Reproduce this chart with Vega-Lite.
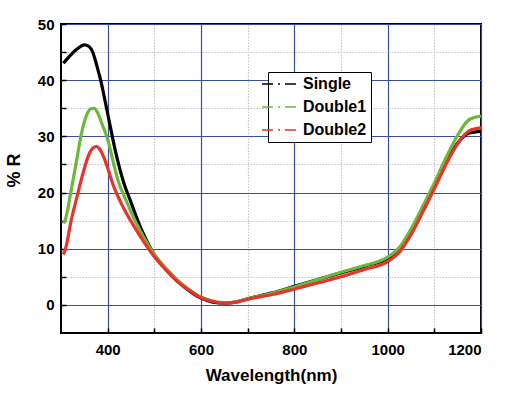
{
  "$schema": "https://vega.github.io/schema/vega-lite/v6.json",
  "autosize": {"type": "none"},
  "width": 420,
  "height": 309,
  "padding": {"left": 61, "top": 24, "right": 35, "bottom": 66},
  "background": "white",
  "config": {
    "font": "Liberation Sans",
    "view": {"stroke": "black", "strokeWidth": 2},
    "axis": {
      "labelFont": "Liberation Sans",
      "labelFontWeight": "bold",
      "labelFontSize": 15,
      "labelColor": "black",
      "titleFont": "Liberation Sans",
      "titleFontWeight": "bold",
      "titleColor": "black",
      "domain": false,
      "tickColor": "black",
      "tickWidth": 1.5,
      "tickSize": -5,
      "grid": true,
      "gridColor": {"condition": {"test": "datum.value % 200 === 0 || (datum.value % 10 === 0 && datum.value < 100)", "value": "#3a4f9a"}, "value": "#c4c4c4"},
      "gridDash": {"condition": {"test": "datum.value % 200 === 0 || (datum.value % 10 === 0 && datum.value < 100)", "value": []}, "value": [1.5, 1.5]},
      "gridWidth": 1.2,
      "gridOpacity": 1
    },
    "legend": {
      "labelFont": "Liberation Sans",
      "labelFontWeight": "bold",
      "labelFontSize": 16,
      "labelColor": "black"
    }
  },
  "data": {
    "values": [
      {"wl": 305, "R": 43.0, "s": "Single"},
      {"wl": 320, "R": 44.4, "s": "Single"},
      {"wl": 335, "R": 45.6, "s": "Single"},
      {"wl": 350, "R": 46.3, "s": "Single"},
      {"wl": 360, "R": 46.0, "s": "Single"},
      {"wl": 368, "R": 45.0, "s": "Single"},
      {"wl": 377, "R": 42.5, "s": "Single"},
      {"wl": 385, "R": 40.0, "s": "Single"},
      {"wl": 394, "R": 36.5, "s": "Single"},
      {"wl": 405, "R": 32.0, "s": "Single"},
      {"wl": 416, "R": 27.6, "s": "Single"},
      {"wl": 422, "R": 25.5, "s": "Single"},
      {"wl": 435, "R": 21.6, "s": "Single"},
      {"wl": 448, "R": 18.7, "s": "Single"},
      {"wl": 460, "R": 16.0, "s": "Single"},
      {"wl": 473, "R": 13.3, "s": "Single"},
      {"wl": 485, "R": 11.2, "s": "Single"},
      {"wl": 498, "R": 9.2, "s": "Single"},
      {"wl": 525, "R": 6.4, "s": "Single"},
      {"wl": 550, "R": 4.2, "s": "Single"},
      {"wl": 575, "R": 2.5, "s": "Single"},
      {"wl": 600, "R": 1.2, "s": "Single"},
      {"wl": 625, "R": 0.5, "s": "Single"},
      {"wl": 650, "R": 0.3, "s": "Single"},
      {"wl": 675, "R": 0.5, "s": "Single"},
      {"wl": 700, "R": 1.1, "s": "Single"},
      {"wl": 750, "R": 2.1, "s": "Single"},
      {"wl": 800, "R": 3.3, "s": "Single"},
      {"wl": 850, "R": 4.5, "s": "Single"},
      {"wl": 900, "R": 5.7, "s": "Single"},
      {"wl": 950, "R": 6.9, "s": "Single"},
      {"wl": 1000, "R": 8.3, "s": "Single"},
      {"wl": 1025, "R": 9.8, "s": "Single"},
      {"wl": 1050, "R": 13.0, "s": "Single"},
      {"wl": 1075, "R": 17.0, "s": "Single"},
      {"wl": 1100, "R": 21.0, "s": "Single"},
      {"wl": 1125, "R": 25.3, "s": "Single"},
      {"wl": 1150, "R": 28.8, "s": "Single"},
      {"wl": 1175, "R": 30.6, "s": "Single"},
      {"wl": 1200, "R": 30.9, "s": "Single"},

      {"wl": 305, "R": 14.5, "s": "Double1"},
      {"wl": 309, "R": 15.1, "s": "Double1"},
      {"wl": 322, "R": 20.5, "s": "Double1"},
      {"wl": 333, "R": 25.5, "s": "Double1"},
      {"wl": 344, "R": 30.6, "s": "Double1"},
      {"wl": 355, "R": 33.8, "s": "Double1"},
      {"wl": 364, "R": 34.9, "s": "Double1"},
      {"wl": 371, "R": 35.0, "s": "Double1"},
      {"wl": 378, "R": 34.3, "s": "Double1"},
      {"wl": 388, "R": 32.2, "s": "Double1"},
      {"wl": 401, "R": 29.2, "s": "Double1"},
      {"wl": 412, "R": 25.4, "s": "Double1"},
      {"wl": 422, "R": 22.2, "s": "Double1"},
      {"wl": 441, "R": 18.3, "s": "Double1"},
      {"wl": 455, "R": 15.6, "s": "Double1"},
      {"wl": 469, "R": 13.3, "s": "Double1"},
      {"wl": 484, "R": 11.1, "s": "Double1"},
      {"wl": 498, "R": 9.2, "s": "Double1"},
      {"wl": 525, "R": 6.5, "s": "Double1"},
      {"wl": 550, "R": 4.4, "s": "Double1"},
      {"wl": 575, "R": 2.7, "s": "Double1"},
      {"wl": 600, "R": 1.4, "s": "Double1"},
      {"wl": 625, "R": 0.7, "s": "Double1"},
      {"wl": 650, "R": 0.4, "s": "Double1"},
      {"wl": 675, "R": 0.5, "s": "Double1"},
      {"wl": 700, "R": 1.1, "s": "Double1"},
      {"wl": 750, "R": 2.0, "s": "Double1"},
      {"wl": 800, "R": 3.2, "s": "Double1"},
      {"wl": 850, "R": 4.5, "s": "Double1"},
      {"wl": 900, "R": 5.8, "s": "Double1"},
      {"wl": 950, "R": 7.0, "s": "Double1"},
      {"wl": 1000, "R": 8.5, "s": "Double1"},
      {"wl": 1025, "R": 10.2, "s": "Double1"},
      {"wl": 1050, "R": 13.5, "s": "Double1"},
      {"wl": 1075, "R": 17.5, "s": "Double1"},
      {"wl": 1100, "R": 21.7, "s": "Double1"},
      {"wl": 1125, "R": 26.2, "s": "Double1"},
      {"wl": 1150, "R": 30.2, "s": "Double1"},
      {"wl": 1175, "R": 33.0, "s": "Double1"},
      {"wl": 1200, "R": 33.6, "s": "Double1"},

      {"wl": 305, "R": 9.0, "s": "Double2"},
      {"wl": 309, "R": 9.8, "s": "Double2"},
      {"wl": 322, "R": 15.1, "s": "Double2"},
      {"wl": 335, "R": 19.5, "s": "Double2"},
      {"wl": 347, "R": 23.4, "s": "Double2"},
      {"wl": 361, "R": 27.0, "s": "Double2"},
      {"wl": 368, "R": 27.9, "s": "Double2"},
      {"wl": 376, "R": 28.2, "s": "Double2"},
      {"wl": 384, "R": 27.6, "s": "Double2"},
      {"wl": 392, "R": 26.2, "s": "Double2"},
      {"wl": 401, "R": 24.1, "s": "Double2"},
      {"wl": 412, "R": 21.3, "s": "Double2"},
      {"wl": 426, "R": 18.6, "s": "Double2"},
      {"wl": 440, "R": 16.3, "s": "Double2"},
      {"wl": 455, "R": 14.2, "s": "Double2"},
      {"wl": 470, "R": 12.2, "s": "Double2"},
      {"wl": 485, "R": 10.3, "s": "Double2"},
      {"wl": 498, "R": 8.8, "s": "Double2"},
      {"wl": 525, "R": 6.2, "s": "Double2"},
      {"wl": 550, "R": 4.1, "s": "Double2"},
      {"wl": 575, "R": 2.6, "s": "Double2"},
      {"wl": 600, "R": 1.3, "s": "Double2"},
      {"wl": 625, "R": 0.6, "s": "Double2"},
      {"wl": 650, "R": 0.3, "s": "Double2"},
      {"wl": 675, "R": 0.5, "s": "Double2"},
      {"wl": 700, "R": 1.0, "s": "Double2"},
      {"wl": 750, "R": 1.8, "s": "Double2"},
      {"wl": 800, "R": 2.8, "s": "Double2"},
      {"wl": 850, "R": 3.9, "s": "Double2"},
      {"wl": 900, "R": 5.0, "s": "Double2"},
      {"wl": 950, "R": 6.3, "s": "Double2"},
      {"wl": 1000, "R": 7.7, "s": "Double2"},
      {"wl": 1025, "R": 9.4, "s": "Double2"},
      {"wl": 1050, "R": 12.5, "s": "Double2"},
      {"wl": 1075, "R": 16.5, "s": "Double2"},
      {"wl": 1100, "R": 20.7, "s": "Double2"},
      {"wl": 1125, "R": 25.0, "s": "Double2"},
      {"wl": 1150, "R": 28.7, "s": "Double2"},
      {"wl": 1175, "R": 31.0, "s": "Double2"},
      {"wl": 1200, "R": 31.5, "s": "Double2"}
    ]
  },
  "mark": {"type": "line", "strokeWidth": 3.2, "interpolate": "monotone"},
  "encoding": {
    "x": {
      "field": "wl", "type": "quantitative",
      "scale": {"domain": [300, 1200], "nice": false},
      "axis": {
        "values": [400, 500, 600, 700, 800, 900, 1000, 1100, 1200],
        "labelExpr": "datum.value % 200 === 0 ? datum.label : ''",
        "format": "d",
        "labelPadding": 14,
        "title": "Wavelength(nm)",
        "titleFontSize": 17,
        "titleY": 47,
        "titleBaseline": "alphabetic"
      }
    },
    "y": {
      "field": "R", "type": "quantitative",
      "scale": {"domain": [-5, 50], "nice": false, "zero": false},
      "axis": {
        "values": [0, 5, 10, 15, 20, 25, 30, 35, 40, 45, 50],
        "labelExpr": "datum.value % 10 === 0 ? datum.label : ''",
        "labelPadding": 12,
        "title": "% R",
        "titleFontSize": 18,
        "titleAngle": 270,
        "titleX": -47,
        "titleY": 146,
        "titleAlign": "center",
        "titleBaseline": "middle"
      }
    },
    "color": {
      "field": "s", "type": "nominal",
      "scale": {"domain": ["Single", "Double1", "Double2"], "range": ["#000000", "#6cb83a", "#e8322b"]},
      "legend": {
        "title": null,
        "orient": "none",
        "legendX": 207,
        "legendY": 48,
        "strokeColor": "black",
        "fillColor": "white",
        "padding": 4,
        "symbolType": "M-3,0H3",
        "symbolSize": 144,
        "symbolStrokeWidth": 1.5,
        "symbolDash": [11, 5, 2, 5],
        "labelOffset": 15,
        "rowPadding": 7
      }
    }
  }
}
